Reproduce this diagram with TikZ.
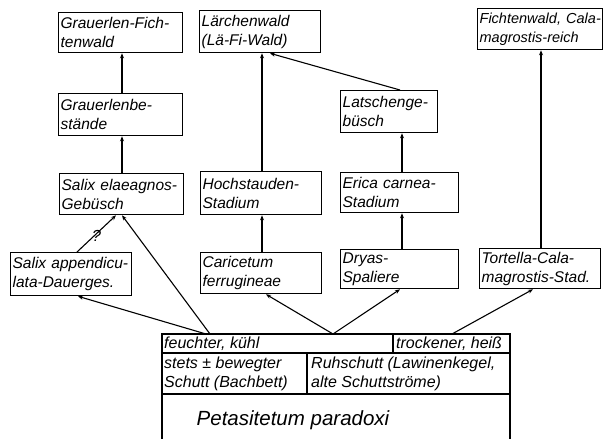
\documentclass[tikz,border=0pt]{standalone}
\usepackage{fontspec}
\setmainfont{Liberation Sans}
\usetikzlibrary{arrows.meta}
\tikzset{
  box/.style={draw, line width=1.3pt, inner xsep=2pt, inner ysep=0pt, align=left,
    anchor=north west, font=\fontsize{15.5}{19}\selectfont\itshape},
  arr/.style={line width=1.1pt, -{Stealth[length=5pt,width=4pt]}},
  cell/.style={inner sep=0pt, anchor=west, font=\fontsize{16}{19}\selectfont\itshape, align=left},
  frame/.style={line width=1.3pt}
}
\newcommand\bx[6]{\node[box, text width=#4-#2-4pt, minimum width=#4-#2, minimum height=#5-#3] (#1) at (#2,#3) {#6};}
\begin{document}
\begin{tikzpicture}[x=1pt,y=-1pt]
\useasboundingbox (0,0) rectangle (605,439);
\bx{gf}{58}{12}{182}{52}{\mbox{Grauerlen-Fich-}\\tenwald}
\bx{lw}{199}{10}{320}{52}{Lärchenwald\\(Lä-Fi-Wald)}
\bx{fc}{477}{8}{602}{49}{\fontsize{14.5}{19}\selectfont\mbox{Fichtenwald, Cala-}\\\mbox{magrostis-reich}}
\bx{gb}{58}{93}{182}{135}{Grauerlenbe-\\stände}
\bx{lb}{340}{90}{437}{132}{\mbox{Latschenge-}\\büsch}
\bx{se}{59}{173}{183}{214}{\mbox{Salix elaeagnos-}\\Gebüsch}
\bx{hs}{200}{171}{321}{214}{\mbox{Hochstauden-}\\Stadium}
\bx{ec}{340}{172}{458}{212}{\mbox{Erica carnea-}\\Stadium}
\bx{sa}{10}{252}{131}{295}{\mbox{Salix appendicu-}\\\mbox{lata-Dauerges.}}
\bx{cf}{200}{252}{321}{293}{Caricetum\\ferrugineae}
\bx{dr}{340}{249}{458}{288}{Dryas-\\Spaliere}
\bx{tc}{479}{248}{600}{288}{\mbox{Tortella-Cala-}\\\mbox{magrostis-Stad.}}
% bottom table
\draw[frame] (162,439) -- (162,334) -- (510,334) -- (510,439);
\draw[frame] (162,353) -- (510,353);
\draw[frame] (162,394) -- (510,394);
\draw[frame] (393,334) -- (393,353);
\draw[frame] (307,353) -- (307,394);
\node[cell] (t1) at (164,343.5) {feuchter, kühl};
\node[cell] (t2) at (396,343.5) {trockener, heiß};
\node[cell] (t3) at (164,373.5) {stets ± bewegter\\Schutt (Bachbett)};
\node[cell] (t4) at (311,373.5) {Ruhschutt (Lawinenkegel,\\alte Schuttströme)};
\node[inner sep=0pt, font=\fontsize{20.5}{24}\selectfont\itshape] (pp) at (293,420) {Petasitetum paradoxi};
\coordinate (p1) at (206,334);
\coordinate (p1b) at (210,334);
\coordinate (p2) at (333,334);
\coordinate (p3) at (452,334);
% arrows
\draw[arr] (gb.north -| 122,0) -- (gf.south -| 122,0);
\draw[arr] (se.north -| 122,0) -- (gb.south -| 122,0);
\draw[arr] (hs.north -| 262,0) -- (lw.south -| 262,0);
\draw[arr] (cf.north -| 262,0) -- (hs.south -| 262,0);
\draw[arr] (lb.north -| 400,0) -- (lw.south -| 270,0);
\draw[arr] (ec.north -| 402,0) -- (lb.south -| 402,0);
\draw[arr] (dr.north -| 402,0) -- (ec.south -| 402,0);
\draw[arr] (tc.north -| 541,0) -- (fc.south -| 541,0);
\draw[arr] (sa.north -| 77,0) -- node[pos=0.5, left, xshift=6pt, yshift=-2pt, inner sep=1pt, font=\fontsize{16}{16}\selectfont\itshape] {?} (se.south -| 116,0);
\draw[arr] (p1b) -- (se.south -| 122,0);
\draw[arr] (p1) -- (sa.south -| 78,0);
\draw[arr] (p2) -- (cf.south -| 266,0);
\draw[arr] (p2) -- (dr.south -| 400,0);
\draw[arr] (p3) -- (tc.south -| 533,0);
\end{tikzpicture}
\end{document}
